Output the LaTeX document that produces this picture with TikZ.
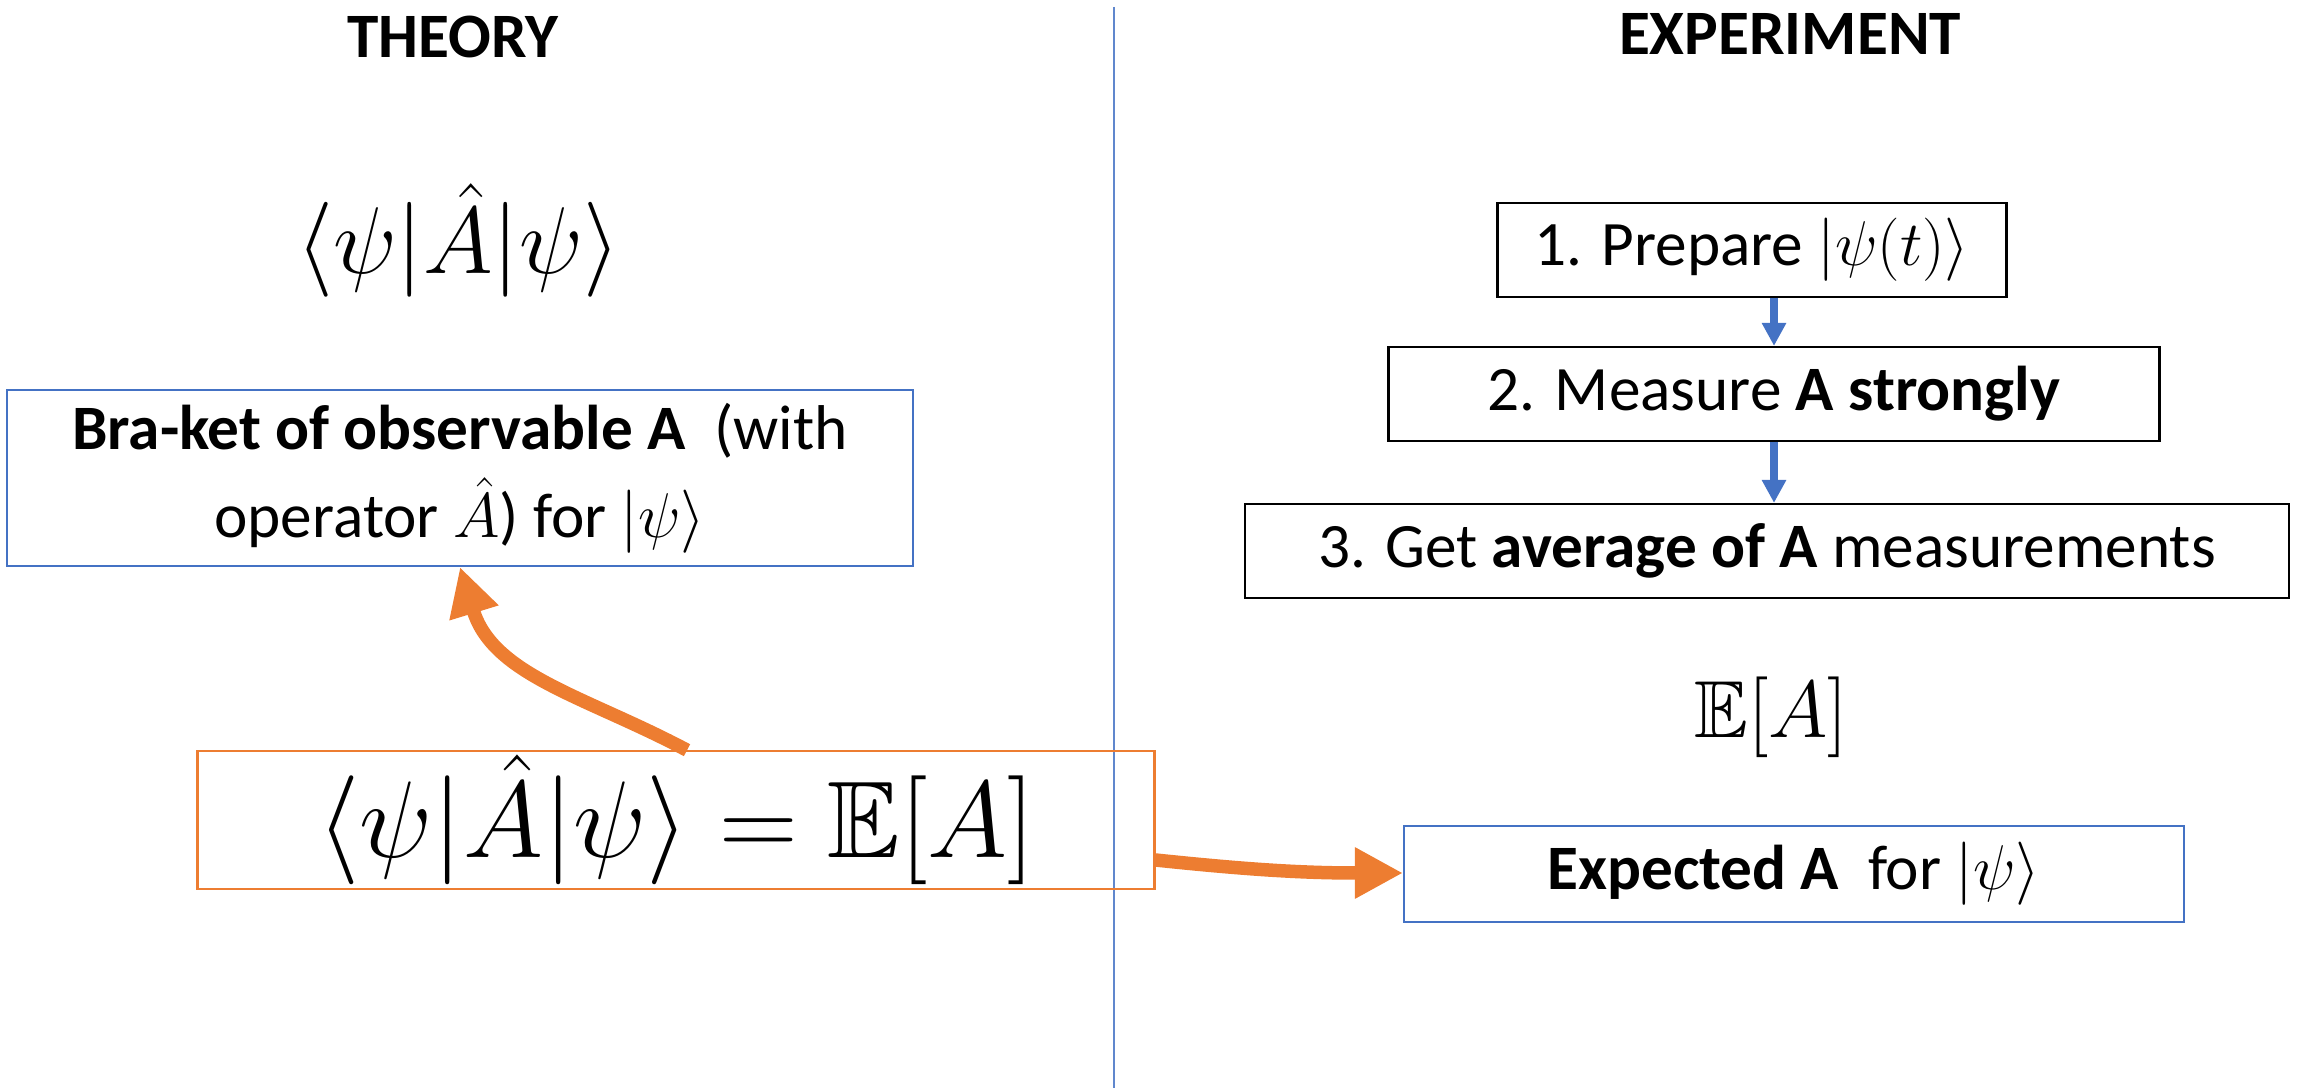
\RequirePackage{fix-cm}
\documentclass[tikz,border=0pt]{standalone}
\usepackage{amsmath,amssymb}
\usepackage{fontspec}
\setmainfont{Carlito}
\usetikzlibrary{arrows.meta,positioning}
\definecolor{qmblue}{HTML}{4472C4}
\definecolor{qmorange}{HTML}{ED7D31}

\begin{document}
\begin{tikzpicture}[x=0.1mm, y=-0.1mm,
  title/.style={font=\fontsize{18}{21}\selectfont\bfseries},
  step box/.style={draw=black, line width=0.6pt, minimum height=9.4mm, align=center,
              font=\fontsize{18}{22}\selectfont, inner sep=2pt},
  note/.style={draw=qmblue, line width=0.6pt, align=center, font=\fontsize{18}{25}\selectfont},
  flow/.style={-{Triangle[length=2.3mm,width=2.3mm]}, line width=0.8mm, qmblue},
  link/.style={-{Triangle[length=4.8mm,width=4.8mm]}, line width=1.35mm, qmorange}
]
\useasboundingbox (0,0) rectangle (2305,1088);
% divider
\draw[qmblue!85, line width=0.4pt] (1114,7) -- (1114,1088);

% theory side
\node[title] (theo) at (453,37) {THEORY};
\node[font=\fontsize{27}{31}\selectfont] (bk) at (458,240) {$\langle\psi|\hat{A}|\psi\rangle$};
\node[note, minimum width=90.6mm, minimum height=17.6mm] (bra) at (460,478)
  {\textbf{Bra-ket of observable A}\ \ (with\\operator $\hat{A}$) for $|\psi\rangle$};
\node[draw=qmorange, line width=0.6pt, minimum width=95.7mm, minimum height=13.2mm,
      inner sep=1pt, font=\fontsize{31}{36}\selectfont] (eq) at (676,820)
  {$\langle\psi|\hat{A}|\psi\rangle=\mathbb{E}[A]$\hspace{2mm}};

% experiment side
\node[title] (expt) at (1790,34) {EXPERIMENT};
\node[step box, minimum width=50.9mm] (prep) at (1752,250) {1. Prepare $|\psi(t)\rangle$};
\node[step box, minimum width=77.1mm] (meas) at (1774,394) {2. Measure \textbf{A strongly}};
\node[step box, minimum width=104.4mm] (avg) at (1767,551) {3. Get \textbf{average of A} measurements};
\node[font=\fontsize{23}{28}\selectfont] (ea) at (1771,717) {$\mathbb{E}[A]$};
\node[note, minimum width=78mm, minimum height=9.6mm] (expd) at (1794,874)
  {\textbf{Expected A}\ \ for $|\psi\rangle$};

\draw[flow] (prep.south -| meas.north) -- (meas.north);
\draw[flow] (meas.south) -- (avg.north -| meas.south);
\draw[link] (eq.north -| 687,0) to[out=152,in=-73] (bra.south -| 460,0);
\draw[link] (eq.east |- 0,860) to[out=-6,in=180] (expd.west |- 0,873);
\end{tikzpicture}
\end{document}
